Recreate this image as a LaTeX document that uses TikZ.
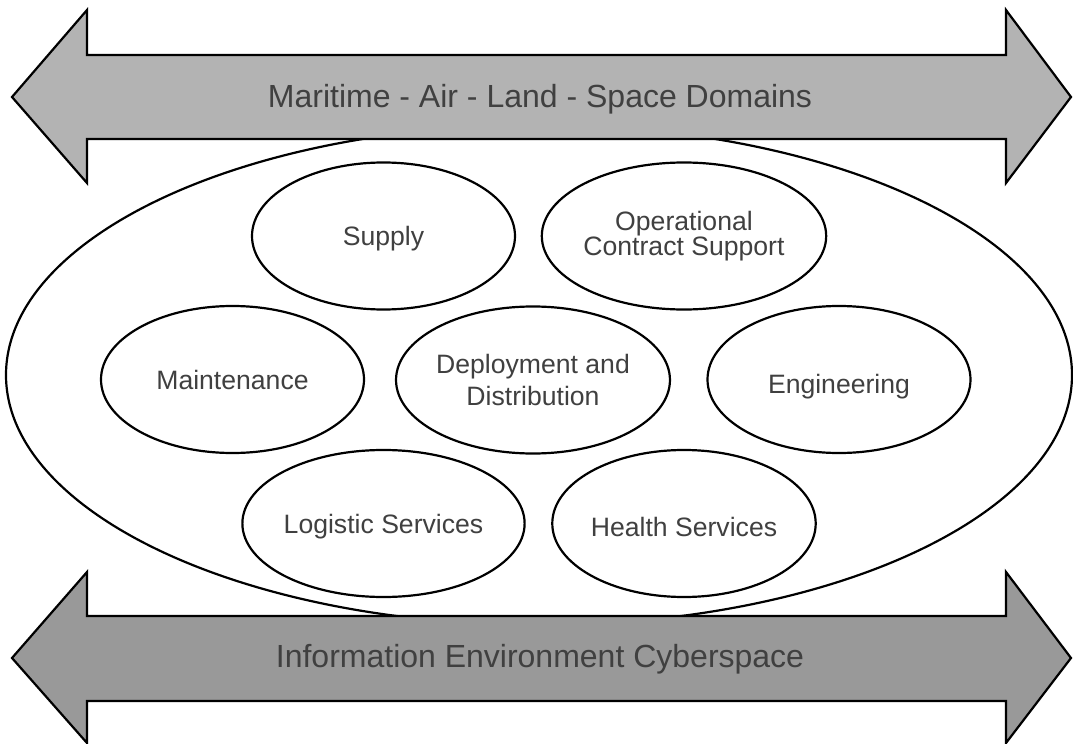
\documentclass[tikz,border=0pt]{standalone}
\usepackage{fontspec}
\setmainfont{Liberation Sans}
\usetikzlibrary{shapes.geometric}
\definecolor{domaingray}{HTML}{B3B3B3}
\definecolor{cybergray}{HTML}{999999}
\definecolor{labelgray}{HTML}{404040}
\tikzset{
  area/.style={ellipse, draw, line width=1.1pt, fill=white, minimum width=131.5pt, minimum height=73.5pt, inner sep=0pt, align=center, text=labelgray, font=\fontsize{13.3}{13}\selectfont},
  band/.style={draw, line width=1.1pt, line join=miter},
  bandlabel/.style={anchor=base, text=labelgray, font=\fontsize{16}{19}\selectfont}
}
\begin{document}
\begin{tikzpicture}[x=0.5pt, y=-0.5pt]
\useasboundingbox (0,0) rectangle (1073,744);
% joint force
\node[ellipse, draw, line width=1.1pt, minimum width=533pt, minimum height=250pt, inner sep=0pt] (hub) at (539,375) {};
% domains
\draw[band, fill=domaingray] (12,97) -- (87,10) -- (87,55) -- (1006,55) -- (1006,10) -- (1071,97) -- (1006,183) -- (1006,139) -- (87,139) -- (87,183) -- cycle;
\node[bandlabel] (domains) at (540,107.5) {Maritime - Air - Land - Space Domains};
\draw[band, fill=cybergray] (12,658) -- (87,572) -- (87,616) -- (1006,616) -- (1006,572) -- (1071,658) -- (1006,743) -- (1006,701) -- (87,701) -- (87,743) -- cycle;
\node[bandlabel] (cyber) at (540,667) {Information Environment Cyberspace};
% functions
\node[area, text height=12pt, text depth=2.8pt] (supply) at (383.5,236) {Supply};
\node[area, font=\fontsize{13.3}{12.8}\selectfont] (contract) at (684,236) {Operational\\Contract Support};
\node[area] (maintenance) at (232.5,379.5) {Maintenance};
\node[area, font=\fontsize{13.3}{15.8}\selectfont] (deployment) at (533,380) {Deployment and\\Distribution};
\node[area, text height=17pt, text depth=2.8pt] (engineering) at (839,379.5) {Engineering};
\node[area, text height=13pt, text depth=2.8pt] (logistic) at (383.5,523.5) {Logistic Services};
\node[area, text height=16pt, text depth=2.8pt] (health) at (684,523.5) {Health Services};
\end{tikzpicture}
\end{document}
